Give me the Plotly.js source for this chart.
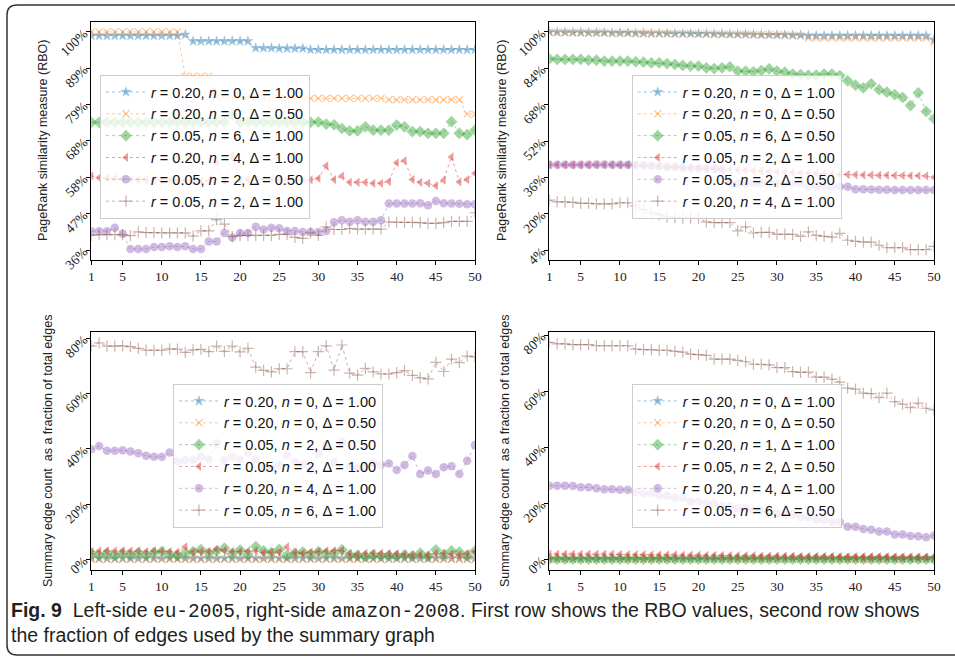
<!DOCTYPE html>
<html>
<head>
<meta charset="utf-8">
<script src="https://cdn.plot.ly/plotly-3.0.1.min.js"></script>
<style>html,body{margin:0;padding:0;background:#fff}#chart{width:955px;height:659px}</style>
</head>
<body>
<div id="chart"></div>
<script>
// ---------- data ----------
const iterations = [1,2,3,4,5,6,7,8,9,10,11,12,13,14,15,16,17,18,19,20,21,22,23,24,25,26,27,28,29,30,31,32,33,34,35,36,37,38,39,40,41,42,43,44,45,46,47,48,49,50];
const xTicks = [1,5,10,15,20,25,30,35,40,45,50];

// top-left: eu-2005 RBO
const tlNames = [
  "<i>r</i> = 0.20, <i>n</i> = 0, Δ = 1.00",
  "<i>r</i> = 0.20, <i>n</i> = 0, Δ = 0.50",
  "<i>r</i> = 0.05, <i>n</i> = 6, Δ = 1.00",
  "<i>r</i> = 0.20, <i>n</i> = 4, Δ = 1.00",
  "<i>r</i> = 0.05, <i>n</i> = 2, Δ = 0.50",
  "<i>r</i> = 0.05, <i>n</i> = 2, Δ = 1.00"];
const tl1 = [0.989,0.989,0.989,0.989,0.989,0.989,0.989,0.989,0.989,0.989,0.989,0.989,0.992,0.973,0.973,0.973,0.973,0.973,0.973,0.973,0.973,0.953,0.953,0.953,0.952,0.952,0.952,0.952,0.948,0.948,0.948,0.948,0.948,0.948,0.948,0.948,0.948,0.948,0.948,0.948,0.948,0.948,0.948,0.948,0.948,0.948,0.948,0.948,0.948,0.948];
const tl2 = [1.0,1.0,1.0,1.0,1.0,1.0,1.0,1.0,1.0,1.0,1.0,1.0,0.871,0.871,0.871,0.871,0.811,0.811,0.811,0.811,0.811,0.811,0.806,0.806,0.806,0.806,0.806,0.806,0.806,0.806,0.806,0.806,0.806,0.806,0.806,0.806,0.806,0.806,0.802,0.802,0.802,0.802,0.802,0.802,0.802,0.802,0.802,0.802,0.760,0.760];
const tl3 = [0.736,0.736,0.736,0.736,0.736,0.736,0.736,0.736,0.736,0.736,0.736,0.736,0.736,0.736,0.736,0.736,0.736,0.736,0.757,0.736,0.736,0.736,0.736,0.736,0.736,0.736,0.736,0.736,0.736,0.737,0.731,0.729,0.718,0.711,0.711,0.723,0.713,0.713,0.713,0.728,0.723,0.709,0.709,0.704,0.704,0.704,0.738,0.704,0.700,0.713];
const tl4 = [0.580,0.574,0.573,0.572,0.571,0.569,0.568,0.567,0.567,0.566,0.566,0.566,0.566,0.565,0.565,0.565,0.620,0.566,0.640,0.568,0.569,0.569,0.569,0.569,0.569,0.568,0.568,0.568,0.568,0.572,0.609,0.569,0.579,0.561,0.561,0.561,0.558,0.558,0.563,0.618,0.624,0.569,0.561,0.558,0.551,0.567,0.635,0.562,0.569,0.587];
const tl5 = [0.418,0.418,0.418,0.428,0.411,0.366,0.366,0.366,0.372,0.372,0.374,0.372,0.374,0.366,0.366,0.388,0.388,0.413,0.400,0.413,0.413,0.431,0.423,0.428,0.427,0.419,0.419,0.416,0.416,0.416,0.419,0.444,0.450,0.446,0.450,0.446,0.446,0.450,0.499,0.499,0.499,0.499,0.500,0.494,0.506,0.500,0.499,0.498,0.497,0.497];
const tl6 = [0.406,0.408,0.408,0.408,0.408,0.405,0.416,0.414,0.414,0.413,0.413,0.413,0.413,0.404,0.419,0.419,0.452,0.439,0.402,0.406,0.406,0.406,0.406,0.406,0.409,0.409,0.400,0.397,0.413,0.406,0.431,0.423,0.423,0.426,0.424,0.424,0.424,0.424,0.445,0.444,0.444,0.444,0.443,0.441,0.441,0.443,0.447,0.447,0.447,0.472];
const tlTickVals = [0.363,0.469,0.575,0.682,0.788,0.894,1.0];
const tlTickText = ["36%","47%","58%","68%","79%","89%","100%"];

// top-right: amazon-2008 RBO
const trNames = [
  "<i>r</i> = 0.20, <i>n</i> = 0, Δ = 1.00",
  "<i>r</i> = 0.20, <i>n</i> = 0, Δ = 0.50",
  "<i>r</i> = 0.05, <i>n</i> = 6, Δ = 0.50",
  "<i>r</i> = 0.05, <i>n</i> = 2, Δ = 1.00",
  "<i>r</i> = 0.05, <i>n</i> = 2, Δ = 0.50",
  "<i>r</i> = 0.20, <i>n</i> = 4, Δ = 1.00"];
const tr1 = [1.0,0.999,0.999,0.998,0.998,0.997,0.997,0.997,0.996,0.996,0.996,0.995,0.995,0.994,0.994,0.994,0.993,0.993,0.993,0.992,0.992,0.991,0.991,0.990,0.990,0.990,0.989,0.988,0.988,0.987,0.987,0.986,0.986,0.984,0.984,0.984,0.984,0.984,0.984,0.984,0.984,0.984,0.984,0.984,0.984,0.984,0.984,0.984,0.984,0.967];
const tr2 = [1.0,0.999,0.999,0.998,0.998,0.997,0.997,0.997,0.996,0.996,0.996,0.995,0.995,0.994,0.994,0.994,0.993,0.993,0.993,0.992,0.992,0.991,0.991,0.990,0.990,0.990,0.989,0.988,0.988,0.987,0.987,0.986,0.985,0.973,0.973,0.973,0.973,0.973,0.973,0.973,0.973,0.973,0.973,0.973,0.973,0.973,0.973,0.973,0.973,0.955];
const tr3 = [0.882,0.879,0.879,0.879,0.879,0.876,0.876,0.872,0.872,0.872,0.872,0.869,0.867,0.864,0.864,0.861,0.857,0.853,0.850,0.850,0.842,0.839,0.842,0.847,0.828,0.828,0.825,0.830,0.838,0.828,0.823,0.815,0.812,0.810,0.810,0.815,0.815,0.808,0.785,0.766,0.754,0.772,0.746,0.735,0.724,0.712,0.676,0.732,0.650,0.618];
const tr4 = [0.415,0.415,0.415,0.415,0.415,0.415,0.415,0.415,0.415,0.415,0.415,0.414,0.413,0.411,0.409,0.407,0.405,0.403,0.401,0.400,0.399,0.398,0.396,0.395,0.393,0.391,0.390,0.388,0.386,0.385,0.384,0.382,0.380,0.379,0.377,0.376,0.374,0.373,0.372,0.371,0.370,0.370,0.369,0.369,0.368,0.368,0.367,0.367,0.366,0.360];
const tr5 = [0.415,0.415,0.415,0.415,0.415,0.415,0.416,0.416,0.415,0.415,0.415,0.414,0.413,0.411,0.409,0.407,0.405,0.403,0.401,0.400,0.399,0.398,0.396,0.336,0.333,0.333,0.333,0.333,0.333,0.333,0.333,0.333,0.333,0.319,0.319,0.319,0.319,0.319,0.319,0.308,0.308,0.306,0.305,0.305,0.304,0.304,0.304,0.304,0.304,0.304];
const tr6 = [0.260,0.252,0.252,0.250,0.245,0.245,0.243,0.243,0.243,0.248,0.248,0.234,0.219,0.204,0.196,0.186,0.182,0.180,0.180,0.180,0.164,0.161,0.161,0.161,0.124,0.142,0.115,0.118,0.118,0.109,0.110,0.109,0.100,0.120,0.104,0.100,0.097,0.113,0.083,0.078,0.075,0.075,0.061,0.050,0.050,0.050,0.042,0.042,0.042,0.056];
const trTickVals = [0.04,0.20,0.36,0.52,0.68,0.84,1.0];
const trTickText = ["4%","20%","36%","52%","68%","84%","100%"];

// bottom-left: eu-2005 edge fraction
const blNames = [
  "<i>r</i> = 0.20, <i>n</i> = 0, Δ = 1.00",
  "<i>r</i> = 0.20, <i>n</i> = 0, Δ = 0.50",
  "<i>r</i> = 0.05, <i>n</i> = 2, Δ = 0.50",
  "<i>r</i> = 0.05, <i>n</i> = 2, Δ = 1.00",
  "<i>r</i> = 0.20, <i>n</i> = 4, Δ = 1.00",
  "<i>r</i> = 0.05, <i>n</i> = 6, Δ = 1.00"];
const bl1 = [0.003,0.003,0.003,0.003,0.003,0.003,0.003,0.003,0.003,0.003,0.003,0.003,0.003,0.003,0.003,0.003,0.003,0.003,0.003,0.003,0.003,0.003,0.003,0.003,0.003,0.003,0.003,0.003,0.003,0.003,0.003,0.003,0.003,0.003,0.003,0.003,0.003,0.003,0.003,0.003,0.003,0.003,0.003,0.003,0.003,0.003,0.003,0.003,0.003,0.003];
const bl2 = [0.0,0.0,0.0,0.0,0.0,0.0,0.0,0.0,0.0,0.0,0.0,0.0,0.0,0.0,0.0,0.0,0.0,0.0,0.0,0.0,0.0,0.0,0.0,0.0,0.0,0.0,0.0,0.0,0.0,0.0,0.0,0.0,0.0,0.0,0.0,0.0,0.0,0.0,0.0,0.0,0.0,0.0,0.0,0.0,0.0,0.0,0.0,0.0,0.0,0.0];
const bl3 = [0.022,0.015,0.022,0.015,0.022,0.016,0.023,0.016,0.024,0.028,0.018,0.014,0.022,0.028,0.035,0.022,0.030,0.040,0.020,0.033,0.018,0.046,0.030,0.024,0.036,0.015,0.022,0.026,0.018,0.028,0.020,0.022,0.034,0.016,0.014,0.010,0.016,0.012,0.014,0.012,0.016,0.012,0.022,0.010,0.034,0.018,0.030,0.026,0.014,0.030];
const bl4 = [0.028,0.030,0.030,0.030,0.030,0.030,0.030,0.028,0.030,0.030,0.028,0.026,0.045,0.026,0.028,0.028,0.036,0.032,0.028,0.028,0.030,0.030,0.024,0.026,0.026,0.045,0.024,0.022,0.026,0.028,0.030,0.030,0.032,0.020,0.018,0.022,0.022,0.022,0.020,0.020,0.018,0.016,0.016,0.016,0.020,0.020,0.018,0.016,0.020,0.028];
const bl5 = [0.398,0.410,0.393,0.393,0.395,0.390,0.384,0.375,0.371,0.371,0.387,0.355,0.359,0.360,0.371,0.362,0.420,0.360,0.371,0.360,0.387,0.362,0.329,0.329,0.341,0.378,0.353,0.345,0.323,0.384,0.414,0.350,0.426,0.335,0.329,0.335,0.350,0.341,0.347,0.323,0.341,0.374,0.309,0.321,0.309,0.333,0.337,0.309,0.357,0.414];
const bl6 = [0.772,0.784,0.772,0.772,0.773,0.770,0.764,0.757,0.757,0.757,0.762,0.761,0.749,0.758,0.760,0.752,0.772,0.753,0.772,0.751,0.764,0.696,0.684,0.679,0.690,0.690,0.752,0.752,0.676,0.752,0.773,0.685,0.776,0.674,0.667,0.691,0.679,0.671,0.671,0.676,0.683,0.666,0.657,0.653,0.713,0.680,0.725,0.712,0.736,0.733];

// bottom-right: amazon-2008 edge fraction
const brNames = [
  "<i>r</i> = 0.20, <i>n</i> = 0, Δ = 1.00",
  "<i>r</i> = 0.20, <i>n</i> = 0, Δ = 0.50",
  "<i>r</i> = 0.20, <i>n</i> = 1, Δ = 1.00",
  "<i>r</i> = 0.05, <i>n</i> = 2, Δ = 0.50",
  "<i>r</i> = 0.20, <i>n</i> = 4, Δ = 1.00",
  "<i>r</i> = 0.05, <i>n</i> = 6, Δ = 0.50"];
const br1 = [0.002,0.002,0.002,0.002,0.002,0.002,0.002,0.002,0.002,0.002,0.002,0.002,0.002,0.002,0.002,0.002,0.002,0.002,0.002,0.002,0.002,0.002,0.002,0.002,0.002,0.002,0.002,0.002,0.002,0.002,0.002,0.002,0.002,0.002,0.002,0.002,0.002,0.002,0.002,0.002,0.002,0.002,0.002,0.002,0.002,0.002,0.002,0.002,0.002,0.002];
const br2 = [0.0,0.0,0.0,0.0,0.0,0.0,0.0,0.0,0.0,0.0,0.0,0.0,0.0,0.0,0.0,0.0,0.0,0.0,0.0,0.0,0.0,0.0,0.0,0.0,0.0,0.0,0.0,0.0,0.0,0.0,0.0,0.0,0.0,0.0,0.0,0.0,0.0,0.0,0.0,0.0,0.0,0.0,0.0,0.0,0.0,0.0,0.0,0.0,0.0,0.0];
const br3 = [0.001,0.001,0.001,0.001,0.001,0.001,0.001,0.001,0.001,0.001,0.001,0.001,0.001,0.001,0.001,0.001,0.001,0.001,0.001,0.001,0.001,0.001,0.001,0.001,0.001,0.001,0.001,0.001,0.001,0.001,0.001,0.001,0.001,0.001,0.001,0.001,0.001,0.001,0.001,0.001,0.001,0.001,0.001,0.001,0.001,0.001,0.001,0.001,0.001,0.001];
const br4 = [0.019,0.019,0.019,0.019,0.019,0.019,0.019,0.019,0.019,0.018,0.017,0.017,0.017,0.016,0.016,0.016,0.016,0.015,0.015,0.015,0.014,0.014,0.014,0.013,0.013,0.013,0.013,0.012,0.012,0.012,0.012,0.012,0.011,0.011,0.011,0.011,0.011,0.010,0.010,0.010,0.010,0.010,0.010,0.010,0.009,0.009,0.009,0.009,0.009,0.009];
const br5 = [0.263,0.263,0.263,0.262,0.257,0.257,0.254,0.250,0.250,0.248,0.248,0.239,0.236,0.236,0.227,0.227,0.219,0.219,0.206,0.206,0.200,0.200,0.190,0.190,0.182,0.182,0.174,0.174,0.164,0.164,0.158,0.158,0.150,0.150,0.140,0.140,0.133,0.133,0.116,0.116,0.108,0.106,0.099,0.099,0.089,0.089,0.083,0.082,0.079,0.085];
const br6 = [0.774,0.769,0.769,0.766,0.766,0.766,0.762,0.762,0.762,0.762,0.762,0.750,0.748,0.748,0.746,0.746,0.742,0.739,0.732,0.730,0.728,0.714,0.714,0.714,0.710,0.705,0.696,0.696,0.694,0.684,0.684,0.670,0.667,0.668,0.650,0.650,0.643,0.632,0.611,0.607,0.593,0.591,0.577,0.593,0.563,0.554,0.541,0.557,0.539,0.533];
const pctTickVals = [0,0.2,0.4,0.6,0.8];
const pctTickText = ["0%","20%","40%","60%","80%"];

// ---------- styles ----------
const A = 0.45;
const rgba = (c) => `rgba(${c[0]},${c[1]},${c[2]},${A})`;
const palette = [[31,119,180],[255,127,14],[44,160,44],[214,39,40],[148,103,189],[140,86,75]];
const symbols = ["star","x-thin-open","diamond","triangle-left","circle","cross-thin-open"];
const sizes = [8.5,7,9,8,8.5,8];

function series(ys, names, xa, ya, leg) {
  return ys.map((y, k) => {
    const col = rgba(palette[k]);
    const open = symbols[k].indexOf("open") >= 0;
    return {
      type: "scatter", mode: "lines+markers", x: iterations, y: y, name: names[k],
      xaxis: xa, yaxis: ya, legend: leg, cliponaxis: true,
      line: {color: col, width: 1, dash: "dot"},
      marker: {symbol: symbols[k], size: sizes[k], color: col,
               line: {color: open ? col : "rgba(0,0,0,0)", width: open ? 1.2 : 0}}
    };
  });
}

const data = [].concat(
  series([tl1,tl2,tl3,tl4,tl5,tl6], tlNames, "x", "y", "legend"),
  series([tr1,tr2,tr3,tr4,tr5,tr6], trNames, "x2", "y2", "legend2"),
  series([bl1,bl2,bl3,bl4,bl5,bl6], blNames, "x3", "y3", "legend3"),
  series([br1,br2,br3,br4,br5,br6], brNames, "x4", "y4", "legend4")
);

const W = 955, H = 659;
const tickFont = {family: "Liberation Serif, DejaVu Serif, serif", size: 13.5, color: "#222"};
function xax(dom, anchor) {
  return {domain: dom, anchor: anchor, range: [1, 50], tickvals: xTicks, ticks: "outside", ticklen: 4,
          tickcolor: "#000", showline: true, linecolor: "#000", linewidth: 1, mirror: true,
          showgrid: false, zeroline: false, tickfont: tickFont};
}
function yax(dom, anchor, range, tv, tt) {
  return {domain: dom, anchor: anchor, range: range, tickvals: tv, ticktext: tt, tickangle: -45,
          ticks: "outside", ticklen: 4, tickcolor: "#000", showline: true, linecolor: "#000",
          linewidth: 1, mirror: true, showgrid: false, zeroline: false, tickfont: tickFont};
}
const xL = [91.3/W, 475/W], xR = [549.3/W, 934/W];
const yT = [1-260/H, 1-22/H], yB = [1-570/H, 1-332.3/H];

function legendAt(px, py) {
  return {x: px/W, y: 1-py/H, xanchor: "left", yanchor: "top", bgcolor: "rgba(255,255,255,0.8)",
          bordercolor: "#cccccc", borderwidth: 1, itemwidth: 40, tracegroupgap: 0,
          font: {family: "Liberation Sans, Arial, sans-serif", size: 14.5, color: "#111"}};
}

const titleFont = {family: "Liberation Sans, Arial, sans-serif", size: 12.5, color: "#222"};
const mono = "font-family:'Liberation Mono','DejaVu Sans Mono',monospace";
const capFont = {family: "Liberation Sans, Arial, sans-serif", size: 19.5, color: "#231f20"};

function ytitle(text, px, py) {
  return {text: text, x: px/W, y: 1-py/H, xref: "paper", yref: "paper", xanchor: "center", yanchor: "middle",
          textangle: -90, showarrow: false, font: titleFont};
}

const layout = {
  width: W, height: H, margin: {l: 0, r: 0, t: 0, b: 0},
  paper_bgcolor: "#fff", plot_bgcolor: "#fff", showlegend: true,
  xaxis: xax(xL, "y"), yaxis: yax(yT, "x", [0.334, 1.029], tlTickVals, tlTickText),
  xaxis2: xax(xR, "y2"), yaxis2: yax(yT, "x2", [-0.004, 1.044], trTickVals, trTickText),
  xaxis3: xax(xL, "y3"), yaxis3: yax(yB, "x3", [-0.039, 0.822], pctTickVals, pctTickText),
  xaxis4: xax(xR, "y4"), yaxis4: yax(yB, "x4", [-0.038, 0.81], pctTickVals, pctTickText),
  legend: legendAt(100, 75), legend2: legendAt(631.7, 75),
  legend3: legendAt(173, 384), legend4: legendAt(631.7, 384),
  annotations: [
    ytitle("PageRank similarity measure (RBO)", 43, 141),
    ytitle("PageRank similarity measure (RBO)", 502, 141),
    ytitle("Summary edge count  as a fraction of total edges", 48, 451),
    ytitle("Summary edge count  as a fraction of total edges", 505, 451),
    {text: "<b>Fig. 9</b>  Left-side <span style=\"" + mono + "\">eu-2005</span>, right-side <span style=\"" + mono + "\">amazon-2008</span>. First row shows the RBO values, second row shows",
     x: 9/W, y: 1-611/H, xref: "paper", yref: "paper", xanchor: "left", yanchor: "middle", showarrow: false, font: capFont},
    {text: "the fraction of edges used by the summary graph",
     x: 9/W, y: 1-635/H, xref: "paper", yref: "paper", xanchor: "left", yanchor: "middle", showarrow: false, font: capFont}
  ],
  shapes: [
    {type: "path", xref: "paper", yref: "paper",
     path: `M 1.0,${1-5/H} L ${17/W},${1-5/H} Q ${7/W},${1-5/H} ${7/W},${1-15/H} L ${7/W},${1-645/H} Q ${7/W},${1-655/H} ${17/W},${1-655/H} L 1.0,${1-655/H}`,
     line: {color: "#333", width: 1.5}}
  ]
};

Plotly.newPlot("chart", data, layout, {displayModeBar: false, staticPlot: true});
</script>
</body>
</html>
